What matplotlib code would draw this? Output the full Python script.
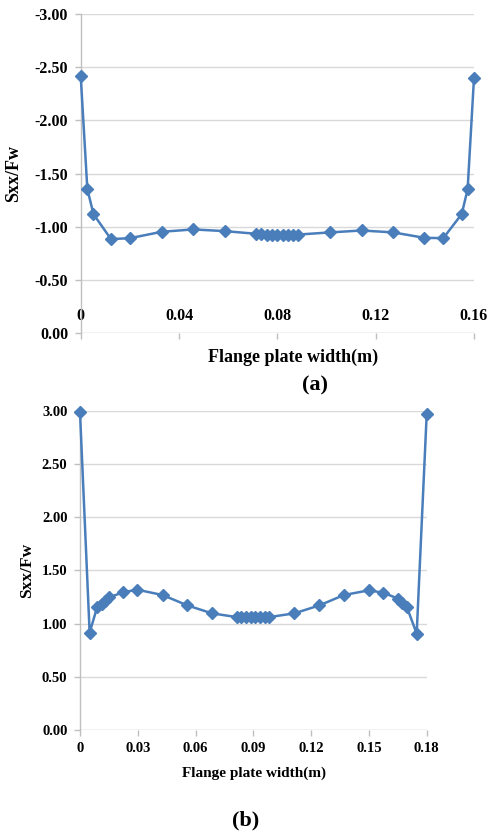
import matplotlib
matplotlib.use("Agg")
import matplotlib.pyplot as plt
from matplotlib.ticker import FuncFormatter

# ---- data (a) ----
xa = [0.0, 0.0027, 0.0052, 0.0123, 0.0201, 0.0330, 0.0458, 0.0587, 0.0713,
      0.0735, 0.0756, 0.0778, 0.0800, 0.0821, 0.0843, 0.0864, 0.0886,
      0.1014, 0.1143, 0.1272, 0.1398, 0.1475, 0.1550, 0.1574, 0.1600]
ya = [-2.42, -1.354, -1.118, -0.883, -0.892, -0.952, -0.974, -0.958, -0.933,
      -0.928, -0.926, -0.926, -0.926, -0.926, -0.926, -0.926, -0.926,
      -0.946, -0.964, -0.946, -0.895, -0.892, -1.118, -1.351, -2.40]
yticks_a = [0.0, -0.5, -1.0, -1.5, -2.0, -2.5, -3.0]
xticks_a = [0.0, 0.04, 0.08, 0.12, 0.16]

# ---- data (b) ----
xb = [0.0, 0.0050, 0.0090, 0.0112, 0.0130, 0.0150, 0.0225, 0.0298, 0.0429,
      0.0557, 0.0685, 0.0813, 0.0837, 0.0862, 0.0886, 0.0910, 0.0934, 0.0959,
      0.0983, 0.1113, 0.1243, 0.1370, 0.1499, 0.1575, 0.1650, 0.1670, 0.1696,
      0.1748, 0.1800]
yb = [2.985, 0.915, 1.16, 1.18, 1.21, 1.245, 1.295, 1.318, 1.268,
      1.171, 1.096, 1.061, 1.061, 1.061, 1.061, 1.061, 1.061, 1.061,
      1.061, 1.096, 1.171, 1.268, 1.312, 1.290, 1.235, 1.19, 1.16,
      0.905, 2.969]
yticks_b = [0.0, 0.5, 1.0, 1.5, 2.0, 2.5, 3.0]
xticks_b = [0.0, 0.03, 0.06, 0.09, 0.12, 0.15, 0.18]

LINE = "#4A7EBB"
GRID = "#D9D9D9"
AXC = "#BFBFBF"
FONT = "Liberation Serif"

plt.rcParams["font.family"] = FONT
plt.rcParams["font.weight"] = "bold"

fig = plt.figure(figsize=(4.91, 8.32), dpi=100)
W, H = 491.0, 832.0

def xfmt(v, p):
    return "0" if abs(v) < 1e-12 else f"{v:.2f}"

def style(ax, xticks, yticks, xlim, ylim, fs):
    ax.set_xlim(*xlim)
    ax.set_ylim(*ylim)
    ax.set_yticks(yticks)
    ax.set_xticks(xticks)
    ax.yaxis.set_major_formatter(FuncFormatter(lambda v, p: f"{v:.2f}"))
    ax.xaxis.set_major_formatter(FuncFormatter(xfmt))
    ax.grid(axis="y", color=GRID, linewidth=1.0)
    ax.set_axisbelow(True)
    for s in ["top", "right", "bottom"]:
        ax.spines[s].set_visible(False)
    ax.spines["left"].set_color(AXC)
    ax.spines["left"].set_linewidth(1.0)
    ax.tick_params(axis="y", direction="out", length=4, width=1.0, color=AXC,
                   labelsize=fs, pad=5)
    ax.tick_params(axis="x", direction="out", length=4, width=1.0, color=AXC,
                   labelsize=fs)
    for lab in ax.get_xticklabels() + ax.get_yticklabels():
        lab.set_fontweight("bold")

# ---- chart (a) ----
axa = fig.add_axes([80.7 / W, 1 - 333 / H, 393.3 / W, 319 / H])
style(axa, xticks_a, yticks_a, (0, 0.16), (0, -3.0), 11.5)
axa.axhline(0.0, color=GRID, linewidth=1.0, zorder=0)
axa.tick_params(axis="x", pad=-22)
axa.plot(xa, ya, color=LINE, linewidth=1.8, marker="D", markersize=6.2,
         clip_on=False, zorder=3)
axa.set_ylabel("Sxx/Fw", fontsize=13, fontweight="bold")
axa.yaxis.set_label_coords(-0.149, 0.5)
axa.set_xlabel("Flange plate width(m)", fontsize=13, fontweight="bold",
               va="center")
axa.xaxis.set_label_coords(0.54, -0.075)
fig.text(315 / W, 1 - 385 / H, "(a)", fontsize=16, fontweight="bold",
         ha="center", va="center")

# ---- chart (b) ----
axb = fig.add_axes([80 / W, 1 - 730 / H, 346.7 / W, 319.3 / H])
style(axb, xticks_b, yticks_b, (0, 0.18), (0, 3.0), 10.5)
axb.axhline(0.0, color=GRID, linewidth=1.0, zorder=0)
axb.tick_params(axis="x", pad=5)
axb.plot(xb, yb, color=LINE, linewidth=1.8, marker="D", markersize=6.2,
         clip_on=False, zorder=3)
axb.set_ylabel("Sxx/Fw", fontsize=12.5, fontweight="bold")
axb.yaxis.set_label_coords(-0.13, 0.5)
axb.set_xlabel("Flange plate width(m)", fontsize=11, fontweight="bold",
               va="center")
axb.xaxis.set_label_coords(0.502, -0.134)
fig.text(246 / W, 1 - 820.7 / H, "(b)", fontsize=16, fontweight="bold",
         ha="center", va="center")

fig.savefig("out.png", dpi=100)
